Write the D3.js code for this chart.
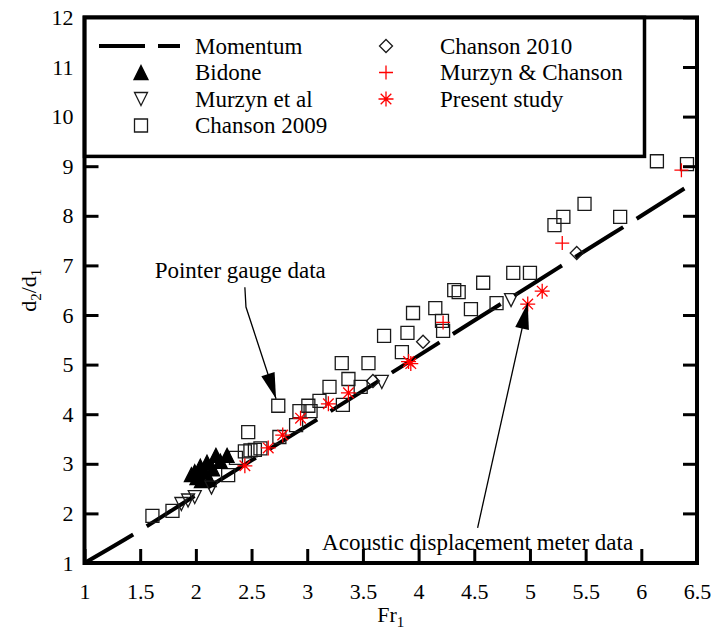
<!DOCTYPE html>
<html>
<head>
<meta charset="utf-8">
<script src="https://cdn.jsdelivr.net/npm/d3@7"></script>
<style>
  body { margin: 0; background: #fff; }
  svg { display: block; }
  svg text { font-family: "Liberation Serif", "Times New Roman", serif; fill: #000; }
</style>
</head>
<body>
<svg id="chart" width="714" height="632"></svg>
<script>
// tick values
const xTicks = [1, 1.5, 2, 2.5, 3, 3.5, 4, 4.5, 5, 5.5, 6, 6.5];
const yTicks = [1, 2, 3, 4, 5, 6, 7, 8, 9, 10, 11, 12];

// momentum (Belanger) curve
const momentumFr = [1, 1.5, 2, 2.5, 3, 3.5, 4, 4.5, 5, 5.5, 6, 6.4];
const momentumD = [1, 1.66, 2.37, 3.07, 3.77, 4.47, 5.18, 5.89, 6.59, 7.30, 8.00, 8.57];

// [Fr1, d2/d1]
const bidone = [[1.96, 2.78], [1.99, 2.84], [2.01, 2.72], [2.04, 2.95], [2.05, 2.66], [2.08, 2.85],
  [2.10, 3.03], [2.12, 2.68], [2.15, 2.90], [2.18, 3.17], [2.22, 3.05], [2.28, 3.17]];
const murzynEtAl = [[1.87, 2.19], [1.93, 2.26], [1.99, 2.33], [2.14, 2.52], [3.67, 4.65], [4.83, 6.30]];
const chanson2009 = [[1.61, 1.95], [1.79, 2.05], [2.29, 2.77], [2.36, 3.12], [2.47, 3.64], [2.44, 3.25],
  [2.49, 3.27], [2.53, 3.28], [2.58, 3.31], [2.74, 4.17], [2.75, 3.54], [2.90, 3.78], [2.93, 4.06],
  [3.01, 4.17], [3.03, 4.06], [3.11, 4.27], [3.20, 4.55], [3.32, 4.19], [3.37, 4.71], [3.31, 5.03],
  [3.48, 4.55], [3.55, 5.03], [3.69, 5.58], [3.85, 5.25], [3.90, 5.64], [3.95, 6.04], [4.15, 6.14],
  [4.21, 5.88], [4.22, 5.68], [4.32, 6.50], [4.36, 6.46], [4.47, 6.12], [4.58, 6.65], [4.70, 6.24],
  [4.85, 6.85], [5.00, 6.85], [5.22, 7.81], [5.30, 7.98], [5.49, 8.24], [5.81, 7.98], [6.14, 9.10],
  [6.41, 9.04]];
const chanson2010 = [[3.59, 4.67], [4.04, 5.46], [5.42, 7.25]];
const murzynChanson = [[4.22, 5.85], [5.29, 7.45], [6.36, 8.92]];
const presentStudy = [[2.44, 2.96], [2.65, 3.32], [2.78, 3.58], [2.94, 3.92], [3.19, 4.21], [3.37, 4.43],
  [3.91, 5.06], [3.93, 5.02], [4.98, 6.22], [5.11, 6.48]];

const W = 714, H = 632;
const svg = d3.select('#chart');

const x = d3.scaleLinear().domain([1, 6.5]).range([84.5, 697]);
const y = d3.scaleLinear().domain([1, 12]).range([563, 17.4]);

function symbolPath(kind) {
  switch (kind) {
    case 'square': return 'M-6.5,-6.5H6.5V6.5H-6.5Z';
    case 'triUp': return 'M0,-7L7,7L-7,7Z';
    case 'triDown': return 'M0,6.5L6.5,-6.5L-6.5,-6.5Z';
    case 'diamond': return 'M0,-6.5L6.5,0L0,6.5L-6.5,0Z';
    case 'plus': return 'M-7,0H7M0,-7V7';
    case 'star': return 'M-7.5,0H7.5M0,-7.5V7.5M-5.3,-5.3L5.3,5.3M5.3,-5.3L-5.3,5.3';
  }
}

const series = [
  { name: 'Chanson 2009', data: chanson2009, kind: 'square', fill: 'none', stroke: '#1a1a1a' },
  { name: 'Bidone', data: bidone, kind: 'triUp', fill: '#000', stroke: '#000' },
  { name: 'Murzyn et al', data: murzynEtAl, kind: 'triDown', fill: 'none', stroke: '#1a1a1a' },
  { name: 'Chanson 2010', data: chanson2010, kind: 'diamond', fill: 'none', stroke: '#1a1a1a' },
  { name: 'Murzyn & Chanson', data: murzynChanson, kind: 'plus', fill: 'none', stroke: '#ff0000' },
  { name: 'Present study', data: presentStudy, kind: 'star', fill: 'none', stroke: '#ff0000' }
];

svg.append('rect').attr('width', W).attr('height', H).attr('fill', '#fff');

// momentum line
const momentum = momentumFr.map((f, i) => [f, momentumD[i]]);
svg.append('path')
  .datum(momentum)
  .attr('d', d3.line().x(d => x(d[0])).y(d => y(d[1])).curve(d3.curveMonotoneX))
  .attr('fill', 'none')
  .attr('stroke', '#000')
  .attr('stroke-width', 4)
  .attr('stroke-dasharray', '56.5,15.8');

// data markers
series.forEach(s => {
  svg.append('g')
    .selectAll('path')
    .data(s.data)
    .enter()
    .append('path')
    .attr('d', symbolPath(s.kind))
    .attr('transform', d => `translate(${x(d[0])},${y(d[1])})`)
    .attr('fill', s.fill)
    .attr('stroke', s.stroke)
    .attr('stroke-width', 1.3);
});

// annotations (positions in data units)
const annotations = [
  { text: 'Pointer gauge data', at: [1.63, 6.75], anchor: 'start', path: [[2.44, 6.56], [2.45, 6.16], [2.72, 4.31]] },
  { text: 'Acoustic displacement meter data', at: [4.53, 1.26], anchor: 'middle', path: [[4.53, 1.71], [4.98, 6.24]] }
];

annotations.forEach(a => {
  svg.append('text')
    .attr('x', x(a.at[0]))
    .attr('y', y(a.at[1]))
    .attr('text-anchor', a.anchor)
    .attr('font-size', 23)
    .text(a.text);

  const pts = a.path.map(p => [x(p[0]), y(p[1])]);
  svg.append('path')
    .attr('d', d3.line()(pts))
    .attr('fill', 'none')
    .attr('stroke', '#000')
    .attr('stroke-width', 1.3);

  const tip = pts[pts.length - 1];
  const prev = pts[pts.length - 2];
  const ang = Math.atan2(tip[1] - prev[1], tip[0] - prev[0]);
  const len = 26, half = 7;
  const bx = tip[0] - len * Math.cos(ang), by = tip[1] - len * Math.sin(ang);
  const nx = -Math.sin(ang) * half, ny = Math.cos(ang) * half;
  svg.append('path')
    .attr('d', `M${tip[0]},${tip[1]}L${bx + nx},${by + ny}L${bx - nx},${by - ny}Z`)
    .attr('fill', '#000');
});

// axes with inward ticks
const fmt = d => String(d);
const tickStyle = g => {
  g.select('.domain').remove();
  g.selectAll('.tick line').attr('stroke', '#000').attr('stroke-width', 3);
  g.selectAll('.tick text').attr('font-size', 22);
};

svg.append('g')
  .attr('transform', `translate(0,${y(1)})`)
  .call(d3.axisBottom(x).tickValues(xTicks).tickFormat(fmt).tickSizeInner(-14).tickSizeOuter(0).tickPadding(20))
  .call(tickStyle);

svg.append('g')
  .attr('transform', `translate(${x(1)},0)`)
  .call(d3.axisLeft(y).tickValues(yTicks).tickFormat(fmt).tickSizeInner(-14).tickSizeOuter(0).tickPadding(11))
  .call(tickStyle);

svg.append('g')
  .attr('transform', `translate(${x(6.5)},0)`)
  .call(d3.axisRight(y).tickValues(yTicks).tickFormat('').tickSizeInner(-14).tickSizeOuter(0))
  .call(tickStyle);

// legend
const legend = svg.append('g');
legend.append('rect')
  .attr('x', x(1)).attr('y', y(12))
  .attr('width', 560).attr('height', 139)
  .attr('fill', '#fff')
  .attr('stroke', '#000')
  .attr('stroke-width', 3.5);

const legendItems = [
  { name: 'Momentum', kind: 'line', col: 0, row: 0 },
  { name: 'Bidone', s: series[1], col: 0, row: 1 },
  { name: 'Murzyn et al', s: series[2], col: 0, row: 2 },
  { name: 'Chanson 2009', s: series[0], col: 0, row: 3 },
  { name: 'Chanson 2010', s: series[3], col: 1, row: 0 },
  { name: 'Murzyn & Chanson', s: series[4], col: 1, row: 1 },
  { name: 'Present study', s: series[5], col: 1, row: 2 }
];
const colSym = [141, 386], colText = [195, 440];
const rowY = r => 46 + r * 26.5;

legendItems.forEach(it => {
  const cy = rowY(it.row);
  if (it.kind === 'line') {
    legend.append('line')
      .attr('x1', 99).attr('x2', 180).attr('y1', cy).attr('y2', cy)
      .attr('stroke', '#000').attr('stroke-width', 4)
      .attr('stroke-dasharray', '46,13');
  } else {
    legend.append('path')
      .attr('d', symbolPath(it.s.kind))
      .attr('transform', `translate(${colSym[it.col]},${cy})`)
      .attr('fill', it.s.fill)
      .attr('stroke', it.s.stroke)
      .attr('stroke-width', 1.3);
  }
  legend.append('text')
    .attr('x', colText[it.col])
    .attr('y', cy + 7.5)
    .attr('font-size', 23)
    .text(it.name);
});

// frame
svg.append('rect')
  .attr('x', x(1)).attr('y', y(12))
  .attr('width', x(6.5) - x(1)).attr('height', y(1) - y(12))
  .attr('fill', 'none')
  .attr('stroke', '#000')
  .attr('stroke-width', 4);

// axis titles
const xTitle = svg.append('text')
  .attr('x', (x(1) + x(6.5)) / 2)
  .attr('y', 622)
  .attr('text-anchor', 'middle')
  .attr('font-size', 22);
xTitle.append('tspan').text('Fr');
xTitle.append('tspan').attr('font-size', 15).attr('dy', 5).text('1');

const yTitle = svg.append('text')
  .attr('transform', `translate(36,${(y(1) + y(12)) / 2}) rotate(-90)`)
  .attr('text-anchor', 'middle')
  .attr('font-size', 22);
yTitle.append('tspan').text('d');
yTitle.append('tspan').attr('font-size', 15).attr('dy', 5).text('2');
yTitle.append('tspan').attr('dy', -5).text('/d');
yTitle.append('tspan').attr('font-size', 15).attr('dy', 5).text('1');
</script>
</body>
</html>
